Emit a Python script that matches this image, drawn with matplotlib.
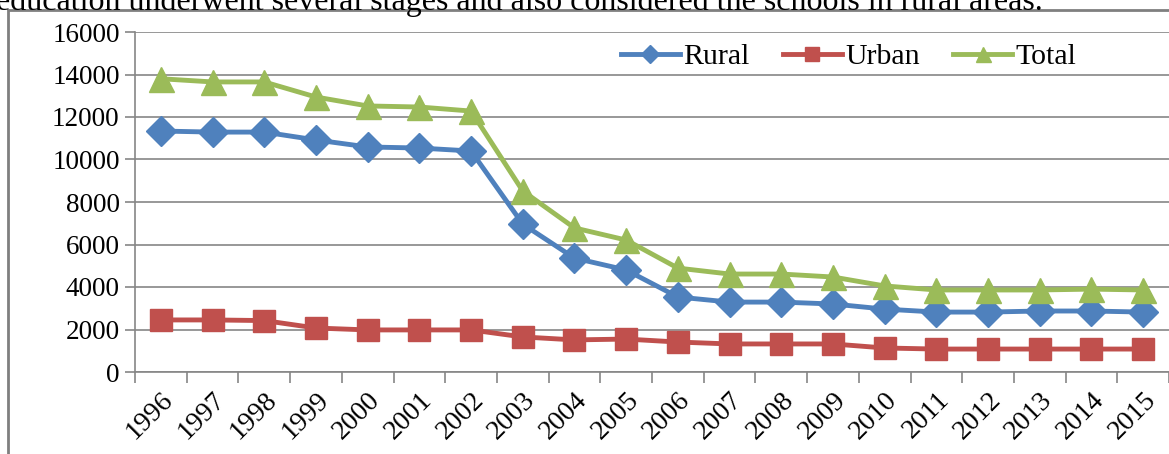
import matplotlib.pyplot as plt
from matplotlib.patches import Rectangle

years = [str(y) for y in range(1996, 2016)]
rural = [11340, 11290, 11290, 10920, 10590, 10540, 10400, 6960, 5360, 4800,
         3530, 3290, 3290, 3200, 2960, 2820, 2820, 2870, 2870, 2820]
urban = [2450, 2450, 2420, 2070, 1980, 1980, 1980, 1650, 1510, 1550,
         1410, 1320, 1320, 1320, 1130, 1080, 1080, 1080, 1080, 1080]
total = [13800, 13650, 13650, 12940, 12520, 12470, 12280, 8520, 6780, 6210,
         4890, 4610, 4610, 4470, 4050, 3860, 3860, 3860, 3900, 3860]

plt.rcParams['font.family'] = ['Liberation Serif', 'DejaVu Serif']

fig = plt.figure(figsize=(11.69, 4.54), dpi=100)
ax = fig.add_axes([135 / 1169, 1 - 372 / 454, 1034 / 1169, 340 / 454])

# frame round the chart and the cut caption above it
fig.patches.append(Rectangle((8 / 1169, -0.1), 1.2, 1 - 10 / 454 + 0.1,
                             transform=fig.transFigure, fill=False,
                             edgecolor='#7f7f7f', linewidth=2))
fig.text(-0.003, 1 - 2 / 454,
         'education underwent several stages and also considered the schools in rural areas.',
         fontsize=23, va='center', ha='left')

x = list(range(len(years)))
ax.plot(x, rural, color='#4F81BD', marker='D', markersize=15, linewidth=3.5, label='Rural')
ax.plot(x, urban, color='#C0504D', marker='s', markersize=16, linewidth=3.5, label='Urban')
ax.plot(x, total, color='#9BBB59', marker='^', markersize=18, linewidth=3.5, label='Total')

ax.set_xlim(-0.5, len(years) - 0.5)
ax.set_ylim(0, 16000)
ax.set_yticks(range(0, 16001, 2000))
ax.tick_params(axis='y', labelsize=19.5, length=7, color='#868686', width=1.2, pad=4)
ax.set_xticks(x)
ax.set_xticklabels(years, rotation=45, fontsize=20, ha='right', va='top',
                   rotation_mode='anchor')
ax.tick_params(axis='x', which='major', length=0, pad=11)
ax.set_xticks([i - 0.5 for i in range(len(years) + 1)], minor=True)
ax.tick_params(axis='x', which='minor', length=8, color='#868686', width=1.2)

ax.grid(axis='y', color='#868686', linewidth=1.2)
ax.set_axisbelow(True)
for s in ['top', 'right']:
    ax.spines[s].set_visible(False)
for s in ['left', 'bottom']:
    ax.spines[s].set_color('#868686')
    ax.spines[s].set_linewidth(1.2)

ax.legend(loc='center', bbox_to_anchor=(0.69, 1 - 25 / 340), ncol=3, frameon=False,
          fontsize=21.5, handlelength=2.0, columnspacing=1.1, handletextpad=0.1,
          borderaxespad=0.0, markerscale=0.6)

fig.savefig('out.png', dpi=100)
